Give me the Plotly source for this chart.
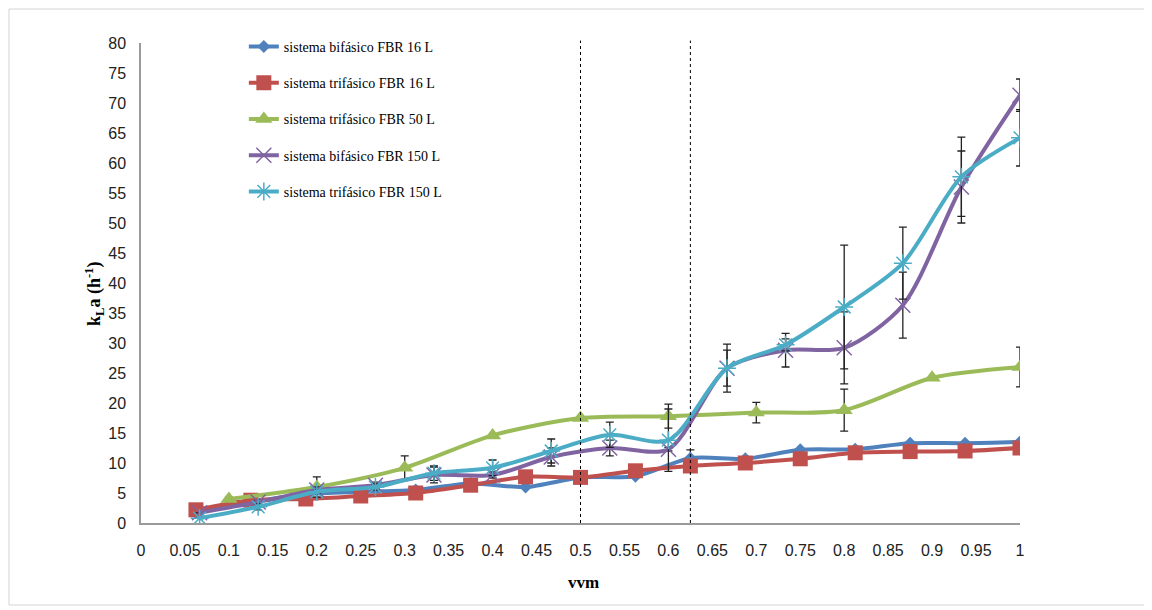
import plotly.graph_objects as go

# ---- data ----
x16 = [0.0625, 0.125, 0.1875, 0.25, 0.3125, 0.375, 0.4375, 0.5, 0.5625, 0.625,
       0.6875, 0.75, 0.8125, 0.875, 0.9375, 1.0]
bif16 = [2.0, 3.5, 4.8, 5.2, 5.5, 6.6, 6.0, 7.6, 7.8, 10.8, 10.7, 12.2, 12.3, 13.3, 13.3, 13.5]
bif16_err = [0, 0, 0, 0, 0, 0, 0, 0, 0, 1.4, 0, 0, 0, 0, 0, 0]
tri16 = [2.2, 3.8, 4.0, 4.5, 5.0, 6.3, 7.7, 7.6, 8.7, 9.5, 10.0, 10.7, 11.7, 11.9, 12.0, 12.5]
tri16_err = [0, 0, 0, 0, 0, 0, 0, 0, 0, 0, 0, 0, 0, 0, 0, 0.8]

x50 = [0.1, 0.2, 0.3, 0.4, 0.5, 0.6, 0.7, 0.8, 0.9, 1.0]
tri50 = [4.0, 6.0, 9.2, 14.6, 17.5, 17.8, 18.4, 18.8, 24.2, 26.0]
tri50_err = [0.3, 1.7, 2.0, 0, 0, 2.0, 1.7, 3.5, 0, 3.3]

x150 = [0.0667, 0.1333, 0.2, 0.2667, 0.3333, 0.4, 0.4667, 0.5333, 0.6, 0.6667,
        0.7333, 0.8, 0.8667, 0.9333, 1.0]
bif150 = [1.7, 3.5, 5.5, 6.3, 8.0, 8.0, 11.0, 12.5, 12.3, 25.8, 28.8, 29.2, 36.3, 56.0, 71.3]
bif150_err = [0, 0.3, 0.5, 0.5, 1.3, 0.5, 1.5, 1.3, 0.3, 3.0, 2.8, 6.0, 5.5, 6.0, 2.7]
tri150 = [0.8, 2.7, 5.2, 6.0, 8.3, 9.2, 12.0, 14.7, 13.8, 25.8, 29.7, 36.0, 43.3, 57.7, 64.2]
tri150_err = [0, 0.5, 0.3, 0.5, 1.2, 1.3, 2.0, 2.1, 5.2, 4.0, 1.0, 10.3, 6.0, 6.6, 4.7]

names = ["sistema bifásico FBR 16 L", "sistema trifásico FBR 16 L", "sistema trifásico FBR 50 L",
         "sistema bifásico FBR 150 L", "sistema trifásico FBR 150 L"]
colors = ["#4F81BD", "#C0504D", "#9BBB59", "#8064A2", "#4BACC6"]

xtick_vals = [0, 0.05, 0.1, 0.15, 0.2, 0.25, 0.3, 0.35, 0.4, 0.45, 0.5, 0.55, 0.6,
              0.65, 0.7, 0.75, 0.8, 0.85, 0.9, 0.95, 1.0]
xtick_text = ["0", "0.05", "0.1", "0.15", "0.2", "0.25", "0.3", "0.35", "0.4", "0.45", "0.5",
              "0.55", "0.6", "0.65", "0.7", "0.75", "0.8", "0.85", "0.9", "0.95", "1"]
ytick_vals = [0, 5, 10, 15, 20, 25, 30, 35, 40, 45, 50, 55, 60, 65, 70, 75, 80]
vlines = [0.5, 0.625]

fig = go.Figure()

series = [
    (x16, bif16, bif16_err, dict(symbol="diamond", size=10)),
    (x16, tri16, tri16_err, dict(symbol="square", size=15)),
    (x50, tri50, tri50_err, dict(symbol="triangle-up", size=15)),
    (x150, bif150, bif150_err, dict(symbol="x-thin-open", size=15)),
    (x150, tri150, tri150_err, dict(symbol="asterisk-open", size=15)),
]

for i, (xs, ys, es, mk) in enumerate(series):
    marker = dict(color=colors[i], size=mk["size"], symbol=mk["symbol"],
                  line=dict(color=colors[i], width=1.5 if "open" in mk["symbol"] else 0))
    fig.add_trace(go.Scatter(
        x=xs, y=ys, name=names[i], mode="lines+markers",
        line=dict(color=colors[i], width=4, shape="spline", smoothing=0.8),
        marker=marker, legendgroup=f"g{i}",
        error_y=dict(type="data", array=es, visible=True, color="#222222",
                     thickness=1.3, width=4),
    ))

for v in vlines:
    fig.add_shape(type="line", xref="x", yref="paper", x0=v, x1=v, y0=0, y1=1.005,
                  line=dict(color="black", width=1, dash="dot"))

# outer light frame
fig.add_shape(type="rect", xref="paper", yref="paper",
              x0=-0.1502, x1=1.1445, y0=-0.1708, y1=1.0708,
              line=dict(color="#d4d4d4", width=1), layer="below")

fig.update_layout(
    width=1144, height=602,
    margin=dict(l=133, r=132, t=35, b=87),
    paper_bgcolor="white", plot_bgcolor="white",
    showlegend=True,
    legend=dict(x=0.117, y=1.025, xanchor="left", yanchor="top",
                bgcolor="rgba(0,0,0,0)",
                font=dict(family="Liberation Serif", size=14, color="black"),
                tracegroupgap=15, traceorder="grouped"),
    font=dict(family="Liberation Sans", size=16, color="#222222"),
)

fig.update_xaxes(range=[0, 1.0], tickvals=xtick_vals, ticktext=xtick_text,
                 showgrid=False, zeroline=False, showline=True, linecolor="#9a9a9a",
                 linewidth=1.5, ticks="", ticklabelstandoff=12,
                 tickfont=dict(family="Liberation Sans", size=16, color="#222222"))
fig.update_yaxes(range=[0, 80], tickvals=ytick_vals,
                 showgrid=False, zeroline=False, showline=True, linecolor="#9a9a9a",
                 linewidth=1.5, ticks="", ticklabelstandoff=10,
                 tickfont=dict(family="Liberation Sans", size=16, color="#222222"))

fig.add_annotation(text="<b>k<sub>L</sub>a (h<sup>-1</sup>)</b>", xref="paper", yref="paper",
                   x=-0.0535, y=0.477, xanchor="center", yanchor="middle",
                   textangle=-90, showarrow=False,
                   font=dict(family="Liberation Serif", size=18, color="black"))
fig.add_annotation(text="<b>vvm</b>", xref="paper", yref="paper",
                   x=0.503, y=-0.123, xanchor="center", yanchor="middle", showarrow=False,
                   font=dict(family="Liberation Serif", size=17, color="black"))

fig.write_html("out.html")
